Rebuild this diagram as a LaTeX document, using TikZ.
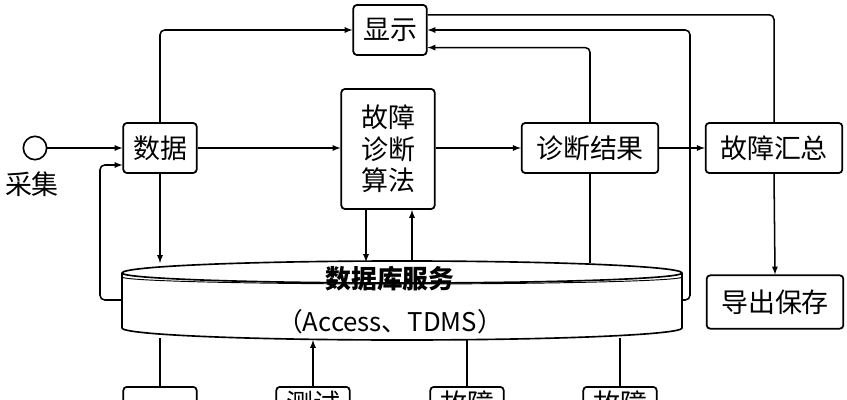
\documentclass[tikz,border=0pt]{standalone}
\usepackage{fontspec}
\setmainfont{Noto Sans CJK SC}
\usetikzlibrary{arrows,shapes,positioning}

\begin{document}
\begin{tikzpicture}[x=0.03cm,y=-0.03cm,>=latex,line width=1.3pt]
	  \tikzstyle{box}=[rectangle,rounded corners=3pt,draw=black,line width=1.5pt,fill=white,
				  inner sep=2pt,font=\fontsize{23}{27}\selectfont]
	  \tikzstyle{line}=[rounded corners=4pt]

		\clip (0,0) rectangle (847,400);
		\useasboundingbox (0,0) rectangle (847,400);

		% nodes
		\node[circle,draw,line width=1.4pt,minimum size=7mm] (acq) at (35,148) {};
		\node[font=\fontsize{23}{27}\selectfont] (acqtxt) at (32,184) {采集};
		\node[box,minimum width=22mm,minimum height=15mm,align=center] (data) at (160,148) {数据};
		\node[box,minimum width=22mm,minimum height=15mm,align=center] (show) at (390,30) {显示};
		\node[box,minimum width=28mm,minimum height=36mm,align=center] (algo) at (388,149) {故障\\诊断\\算法};
		\node[box,minimum width=41mm,minimum height=15mm] (result) at (590,148) {诊断结果};
		\node[box,minimum width=41mm,minimum height=15mm] (summary) at (774,148) {故障汇总};
		\node[box,minimum width=41mm,minimum height=16mm] (export) at (775,302) {导出保存};
		\foreach \name/\x/\txt in {b1/160/{}, b2/313/测试, b3/467/故障, b4/620/故障}
			\node[box,minimum width=22mm,minimum height=10mm,anchor=north] (\name) at (\x,386) {\txt};

		% database cylinder
		\draw[fill=white,line width=1.4pt] (122,273) -- (122,328) arc[start angle=180,end angle=0,x radius=280,y radius=12]
			-- (682,273) arc[start angle=0,end angle=-180,x radius=280,y radius=12] -- cycle;
		\draw[line width=1.4pt] (122,273) arc[start angle=180,end angle=0,x radius=280,y radius=10];
		\draw[line width=0.8pt] (122,277) arc[start angle=180,end angle=0,x radius=280,y radius=7];
		\node[font=\bfseries\fontsize{22}{26}\selectfont] (dbname) at (390,279) {数据库服务};
		\node[font=\fontsize{22}{26}\selectfont] (dbtype) at (390,322) {（Access、TDMS）};

		% connectors
		\draw[->] (acq) -- (data);
		\draw[->] (data) -- (algo.west |- data);
		\draw[->] (algo.east |- result) -- (result);
		\draw[->] (result) -- (summary);
		\draw[->,line] (data.north) |- (show.west);
		\draw[line] (summary.north) |- ([yshift=13]show.east);
		\draw[<-,line] (show.east) -| (690,300) -- (682,300);
		\draw[<-,line] ([yshift=-15]show.east) -| (result.north);
		\draw (result.south) -- (590,263);
		\draw[->] (summary.south) -- (export.north);
		\draw[->] (data.south) -- (160,263);
		\draw[->,line] (122,300) -| (100,165) -- (data.west |- 0,165);
		\draw[->] (366,210) -- (366,262);
		\draw[->] (412,262) -- (412,210);
		\draw (160,338) -- (b1.north);
		\draw[->] (b2.north) -- (313,340);
		\draw (467,340) -- (b3.north);
		\draw (620,338) -- (b4.north);
	 
\end{tikzpicture}
\end{document}
